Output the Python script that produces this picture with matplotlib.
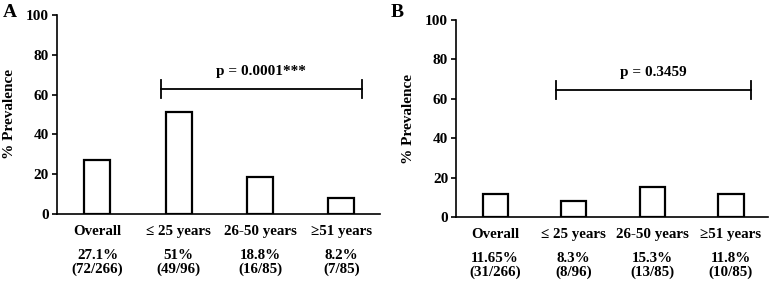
import matplotlib
matplotlib.use("Agg")
import matplotlib.pyplot as plt
from matplotlib.transforms import blended_transform_factory

plt.rcParams['font.family'] = ['Liberation Serif', 'DejaVu Serif']
plt.rcParams['font.weight'] = 'bold'

categories = ["Overall", "≤ 25 years", "26-50 years", "≥51 years"]
prev_a = [27.1, 51, 18.8, 8.2]
pct_a = ["27.1%", "51%", "18.8%", "8.2%"]
cnt_a = ["(72/266)", "(49/96)", "(16/85)", "(7/85)"]
prev_b = [11.65, 8.3, 15.3, 11.8]
pct_b = ["11.65%", "8.3%", "15.3%", "11.8%"]
cnt_b = ["(31/266)", "(8/96)", "(13/85)", "(10/85)"]
p_a = "p = 0.0001***"
p_b = "p = 0.3459"

fig = plt.figure(figsize=(7.78, 2.83), dpi=100)
ax_a = fig.add_axes([0.073, 0.244, 0.415, 0.703])
ax_b = fig.add_axes([0.586, 0.233, 0.401, 0.696])


def panel(ax, vals, pcts, cnts, ptext, bracket_y, letter, letter_x):
    x = list(range(len(vals)))
    ax.bar(x, vals, width=0.32, facecolor='white', edgecolor='black', linewidth=1.6)
    ax.set_xlim(-0.5, 3.47)
    ax.set_ylim(0, 100)
    ax.set_yticks(range(0, 101, 20))
    ax.set_xticks([])
    for s in ['top', 'right']:
        ax.spines[s].set_visible(False)
    for s in ['left', 'bottom']:
        ax.spines[s].set_linewidth(1.2)
    ax.tick_params(axis='y', length=3.6, width=1.2, labelsize=11, pad=2)
    for lab in ax.get_yticklabels():
        lab.set_fontweight('bold')
    ax.set_ylabel("% Prevalence", fontsize=11, fontweight='bold', labelpad=7)

    tr = blended_transform_factory(ax.transData, ax.transAxes)
    rows = [(categories, -12.5), (pcts, -30), (cnts, -40)]
    for texts, off in rows:
        for i in x:
            ax.annotate(texts[i], (i, 0), xycoords=tr, xytext=(0, off),
                        textcoords='offset points', ha='center', va='center',
                        fontsize=10.8, fontweight='bold', annotation_clip=False)

    # significance bracket
    x0, x1 = 0.78, 3.25
    ax.plot([x0, x1], [bracket_y, bracket_y], color='black', lw=1.3)
    ax.plot([x0, x0], [bracket_y - 4.5, bracket_y + 4.5], color='black', lw=1.3)
    ax.plot([x1, x1], [bracket_y - 4.5, bracket_y + 4.5], color='black', lw=1.3)
    ax.text((x0 + x1) / 2, bracket_y + 5.5, ptext, ha='center', va='bottom',
            fontsize=11, fontweight='bold')

    fig.text(letter_x, 0.955, letter, fontsize=14, fontweight='bold',
             ha='left', va='center')


panel(ax_a, prev_a, pct_a, cnt_a, p_a, 62.8, "A", 0.003)
panel(ax_b, prev_b, pct_b, cnt_b, p_b, 64.5, "B", 0.502)

fig.savefig("out.png", dpi=100)
